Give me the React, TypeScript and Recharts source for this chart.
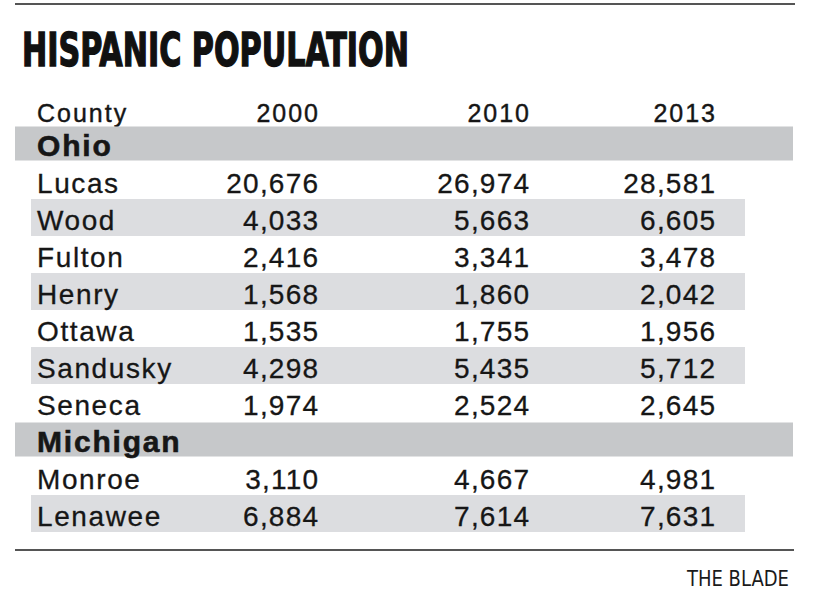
import React from "react";
import { BarChart, Bar, XAxis, YAxis } from "recharts";

const title = "HISPANIC POPULATION";
const credit = "THE BLADE";
const firstColumn = "County";
const years = ["2000", "2010", "2013"];

const ohioCounties = ["Lucas", "Wood", "Fulton", "Henry", "Ottawa", "Sandusky", "Seneca"];
const ohio2000 = [20676, 4033, 2416, 1568, 1535, 4298, 1974];
const ohio2010 = [26974, 5663, 3341, 1860, 1755, 5435, 2524];
const ohio2013 = [28581, 6605, 3478, 2042, 1956, 5712, 2645];

const michiganCounties = ["Monroe", "Lenawee"];
const michigan2000 = [3110, 6884];
const michigan2010 = [4667, 7614];
const michigan2013 = [4981, 7631];

type Row = { id: string; kind: "header" | "section" | "row"; stripe: boolean; values: string[]; full: number };

const fmt = (n: number) => n.toLocaleString("en-US");

const buildGroup = (name: string, counties: string[], a: number[], b: number[], c: number[]): Row[] => [
  { id: name, kind: "section", stripe: false, values: [], full: 1 },
  ...counties.map((cty, i) => ({
    id: cty,
    kind: "row" as const,
    stripe: i % 2 === 1,
    values: [fmt(a[i]), fmt(b[i]), fmt(c[i])],
    full: 1,
  })),
];

const tableRows: Row[] = [
  { id: firstColumn, kind: "header", stripe: false, values: years, full: 1 },
  ...buildGroup("Ohio", ohioCounties, ohio2000, ohio2010, ohio2013),
  ...buildGroup("Michigan", michiganCounties, michigan2000, michigan2010, michigan2013),
];

const W = 818;
const H = 600;
const COL_RIGHT = [318, 529, 715];
const NAME_X = 37;
const FONT = "'Liberation Sans', Arial, Helvetica, sans-serif";
const TEXT = "#161616";

const RowShape = (props: any) => {
  const { y, height, payload } = props;
  const row: Row = payload;
  const cy = y + height / 2;
  const els: React.ReactNode[] = [];
  if (row.kind === "section") {
    els.push(<rect key="bg" x={15} y={y + 1.5} width={778} height={height - 3} fill="#c6c8ca" />);
    els.push(
      <text key="t" x={NAME_X} y={cy + 12} fontFamily={FONT} fontWeight={700} fontSize={30} letterSpacing={1.8} fill={TEXT} stroke={TEXT} strokeWidth={0.6}>
        {row.id}
      </text>
    );
  } else if (row.kind === "header") {
    els.push(
      <text key="t" x={NAME_X} y={cy + 15} fontFamily={FONT} fontSize={25} letterSpacing={2} fill={TEXT} stroke={TEXT} strokeWidth={0.4}>
        {row.id}
      </text>
    );
    row.values.forEach((v, i) =>
      els.push(
        <text key={"v" + i} x={COL_RIGHT[i] + 2} y={cy + 15} textAnchor="end" fontFamily={FONT} fontSize={25} letterSpacing={2} fill={TEXT} stroke={TEXT} strokeWidth={0.4}>
          {v}
        </text>
      )
    );
  } else {
    if (row.stripe) {
      els.push(<rect key="bg" x={31} y={y} width={714} height={height} fill="#dcdde0" />);
    }
    els.push(
      <text key="t" x={NAME_X} y={cy + 12.5} fontFamily={FONT} fontSize={28} letterSpacing={1.6} fill={TEXT} stroke={TEXT} strokeWidth={0.3}>
        {row.id}
      </text>
    );
    row.values.forEach((v, i) =>
      els.push(
        <text key={"v" + i} x={COL_RIGHT[i] + 1.2} y={cy + 12.5} textAnchor="end" fontFamily={FONT} fontSize={28} letterSpacing={1.2} fill={TEXT} stroke={TEXT} strokeWidth={0.3}>
          {v}
        </text>
      )
    );
  }
  return <g>{els}</g>;
};

export default function App() {
  return (
    <div style={{ position: "absolute", left: 0, top: 0, width: W, height: H, background: "#fff" }}>
      <BarChart
        width={W}
        height={H}
        data={tableRows}
        layout="vertical"
        margin={{ top: 88, right: 0, bottom: 68, left: 0 }}
        barCategoryGap={0}
      >
        <XAxis type="number" domain={[0, 1]} hide />
        <YAxis type="category" dataKey="id" hide />
        <Bar dataKey="full" shape={<RowShape />} isAnimationActive={false} />
      </BarChart>
      <svg width={W} height={H} style={{ position: "absolute", left: 0, top: 0, pointerEvents: "none" }}>
        <line x1={15} x2={795} y1={4} y2={4} stroke="#555" strokeWidth={2} />
        <text
          x={22}
          y={66}
          fontFamily="'Liberation Sans Narrow', 'DejaVu Sans Condensed', 'Liberation Sans', sans-serif"
          fontWeight={700}
          fontSize={47}
          textLength={387}
          lengthAdjust="spacingAndGlyphs"
          fill="#111"
          stroke="#111"
          strokeWidth={1.4}
        >
          {title}
        </text>
        <line x1={15} x2={794} y1={550} y2={550} stroke="#555" strokeWidth={2} />
        <text
          x={687}
          y={586}
          fontFamily="'Liberation Sans Narrow', 'DejaVu Sans Condensed', 'Liberation Sans', sans-serif"
          fontSize={20.5}
          textLength={102}
          lengthAdjust="spacingAndGlyphs"
          fill="#1a1a1a"
        >
          {credit}
        </text>
      </svg>
    </div>
  );
}
